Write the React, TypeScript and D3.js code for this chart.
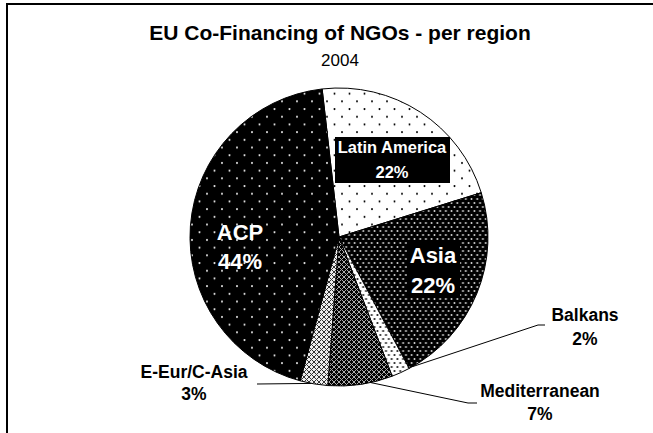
import * as d3 from "d3";
import { useMemo } from "react";

// slices clockwise from just left of 12 o'clock
const regions = ["Latin America", "Asia", "Balkans", "Mediterranean", "E-Eur/C-Asia", "ACP"];
const shares = [22, 22, 2, 7, 3, 44];
const percentLabels = ["22%", "22%", "2%", "7%", "3%", "44%"];
const patternIds = ["pLatin", "pAsia", "pBalkans", "pMed", "pEEur", "pACP"];

const titleText = "EU Co-Financing of NGOs - per region";
const subtitleText = "2004";

const W = 653;
const H = 433;
const cx = 339;
const cy = 237;
const radius = 149;
const startDeg = -6.5;

// label layout: inside labels have a black box, outside ones a leader line
// shift = degrees the leader line start is moved away from the slice middle
const labelLayout: Record<string, any> = {
    "Latin America": { x: 392, y1: 153, y2: 178, size: 16.5, color: "#fff", box: [335, 137, 115, 46] },
    "Asia": { x: 433, y1: 263, y2: 293, size: 22, color: "#fff", box: [407, 240, 53, 58] },
    "ACP": { x: 240, y1: 240, y2: 269, size: 22, color: "#fff" },
    "Balkans": { x: 585, y1: 321, y2: 345, size: 17.5, color: "#000", shift: -5, line: [[538, 325], [545, 325]] },
    "Mediterranean": { x: 540, y1: 397, y2: 420, size: 17.5, color: "#000", shift: -4, line: [[468, 403], [477, 403]] },
    "E-Eur/C-Asia": { x: 194, y1: 378, y2: 400, size: 17.5, color: "#000", shift: 1, line: [[257, 384]] },
};

const font = "'Liberation Sans', Arial, sans-serif";

const Patterns = () => (
    <defs>
        <pattern id="pLatin" width={15} height={15.4} patternUnits="userSpaceOnUse">
            <rect width={15} height={15.4} fill="#fff" />
            <circle cx={3} cy={3} r={1} fill="#000" />
            <circle cx={10.5} cy={10.7} r={1} fill="#000" />
        </pattern>
        <pattern id="pACP" width={15} height={15.4} patternUnits="userSpaceOnUse">
            <rect width={15} height={15.4} fill="#000" />
            <circle cx={3} cy={3} r={1.05} fill="#e4e4e4" />
            <circle cx={10.5} cy={10.7} r={1.05} fill="#e4e4e4" />
        </pattern>
        <pattern id="pAsia" width={5.7} height={8} patternUnits="userSpaceOnUse">
            <rect width={5.7} height={8} fill="#000" />
            <circle cx={1.4} cy={2} r={0.95} fill="#ddd" />
            <circle cx={4.25} cy={6} r={0.95} fill="#ddd" />
        </pattern>
        <pattern id="pBalkans" width={5.7} height={8} patternUnits="userSpaceOnUse">
            <rect width={5.7} height={8} fill="#fff" />
            <circle cx={1.4} cy={2} r={1.1} fill="#222" />
            <circle cx={4.25} cy={6} r={1.1} fill="#222" />
        </pattern>
        <pattern id="pMed" width={5} height={5} patternUnits="userSpaceOnUse">
            <rect width={5} height={5} fill="#000" />
            <path d="M0,0L5,5M5,0L0,5" stroke="#aaa" strokeWidth={1} />
        </pattern>
        <pattern id="pEEur" width={5} height={5} patternUnits="userSpaceOnUse">
            <rect width={5} height={5} fill="#eee" />
            <path d="M0,0L5,5M5,0L0,5" stroke="#333" strokeWidth={1} />
        </pattern>
    </defs>
);

const App = () => {
    const arcs = useMemo(() => {
        const start = (startDeg * Math.PI) / 180;
        return d3
            .pie<number>()
            .sort(null)
            .startAngle(start)
            .endAngle(start + 2 * Math.PI)(shares);
    }, []);

    const arcGen = d3.arc<d3.PieArcDatum<number>>().innerRadius(0).outerRadius(radius);

    return (
        <svg
            width={W}
            height={H}
            style={{ position: "absolute", left: 0, top: 0, display: "block", background: "#fff" }}
        >
            <Patterns />
            {/* chart frame, runs off the right and bottom */}
            <rect x={7} y={4} width={W + 20} height={H + 20} fill="none" stroke="#000" strokeWidth={2} />

            <text x={340} y={40} textAnchor="middle" fontFamily={font} fontWeight="bold" fontSize={21}>
                {titleText}
            </text>
            <text x={340} y={66} textAnchor="middle" fontFamily={font} fontSize={17}>
                {subtitleText}
            </text>

            <g transform={`translate(${cx},${cy})`}>
                {arcs.map((a, i) => (
                    <path
                        key={regions[i]}
                        d={arcGen(a) || ""}
                        fill={`url(#${patternIds[i]})`}
                        stroke="#000"
                        strokeWidth={1}
                    />
                ))}
            </g>

            {arcs.map((a, i) => {
                const lay = labelLayout[regions[i]];
                if (!lay.line) return null;
                const mid = (a.startAngle + a.endAngle) / 2 + ((lay.shift || 0) * Math.PI) / 180;
                const px = cx + radius * Math.sin(mid);
                const py = cy - radius * Math.cos(mid);
                const pts = [[px, py], ...lay.line].map((p) => p.join(",")).join(" ");
                return <polyline key={"l" + i} points={pts} fill="none" stroke="#000" strokeWidth={1} />;
            })}

            {regions.map((r, i) => {
                const lay = labelLayout[r];
                return (
                    <g key={"t" + i}>
                        {lay.box && (
                            <rect x={lay.box[0]} y={lay.box[1]} width={lay.box[2]} height={lay.box[3]} fill="#000" />
                        )}
                        <text
                            x={lay.x}
                            y={lay.y1}
                            textAnchor="middle"
                            fontFamily={font}
                            fontWeight="bold"
                            fontSize={lay.size}
                            fill={lay.color}
                        >
                            {r}
                        </text>
                        <text
                            x={lay.x}
                            y={lay.y2}
                            textAnchor="middle"
                            fontFamily={font}
                            fontWeight="bold"
                            fontSize={lay.size}
                            fill={lay.color}
                        >
                            {percentLabels[i]}
                        </text>
                    </g>
                );
            })}
        </svg>
    );
};

export default App;
